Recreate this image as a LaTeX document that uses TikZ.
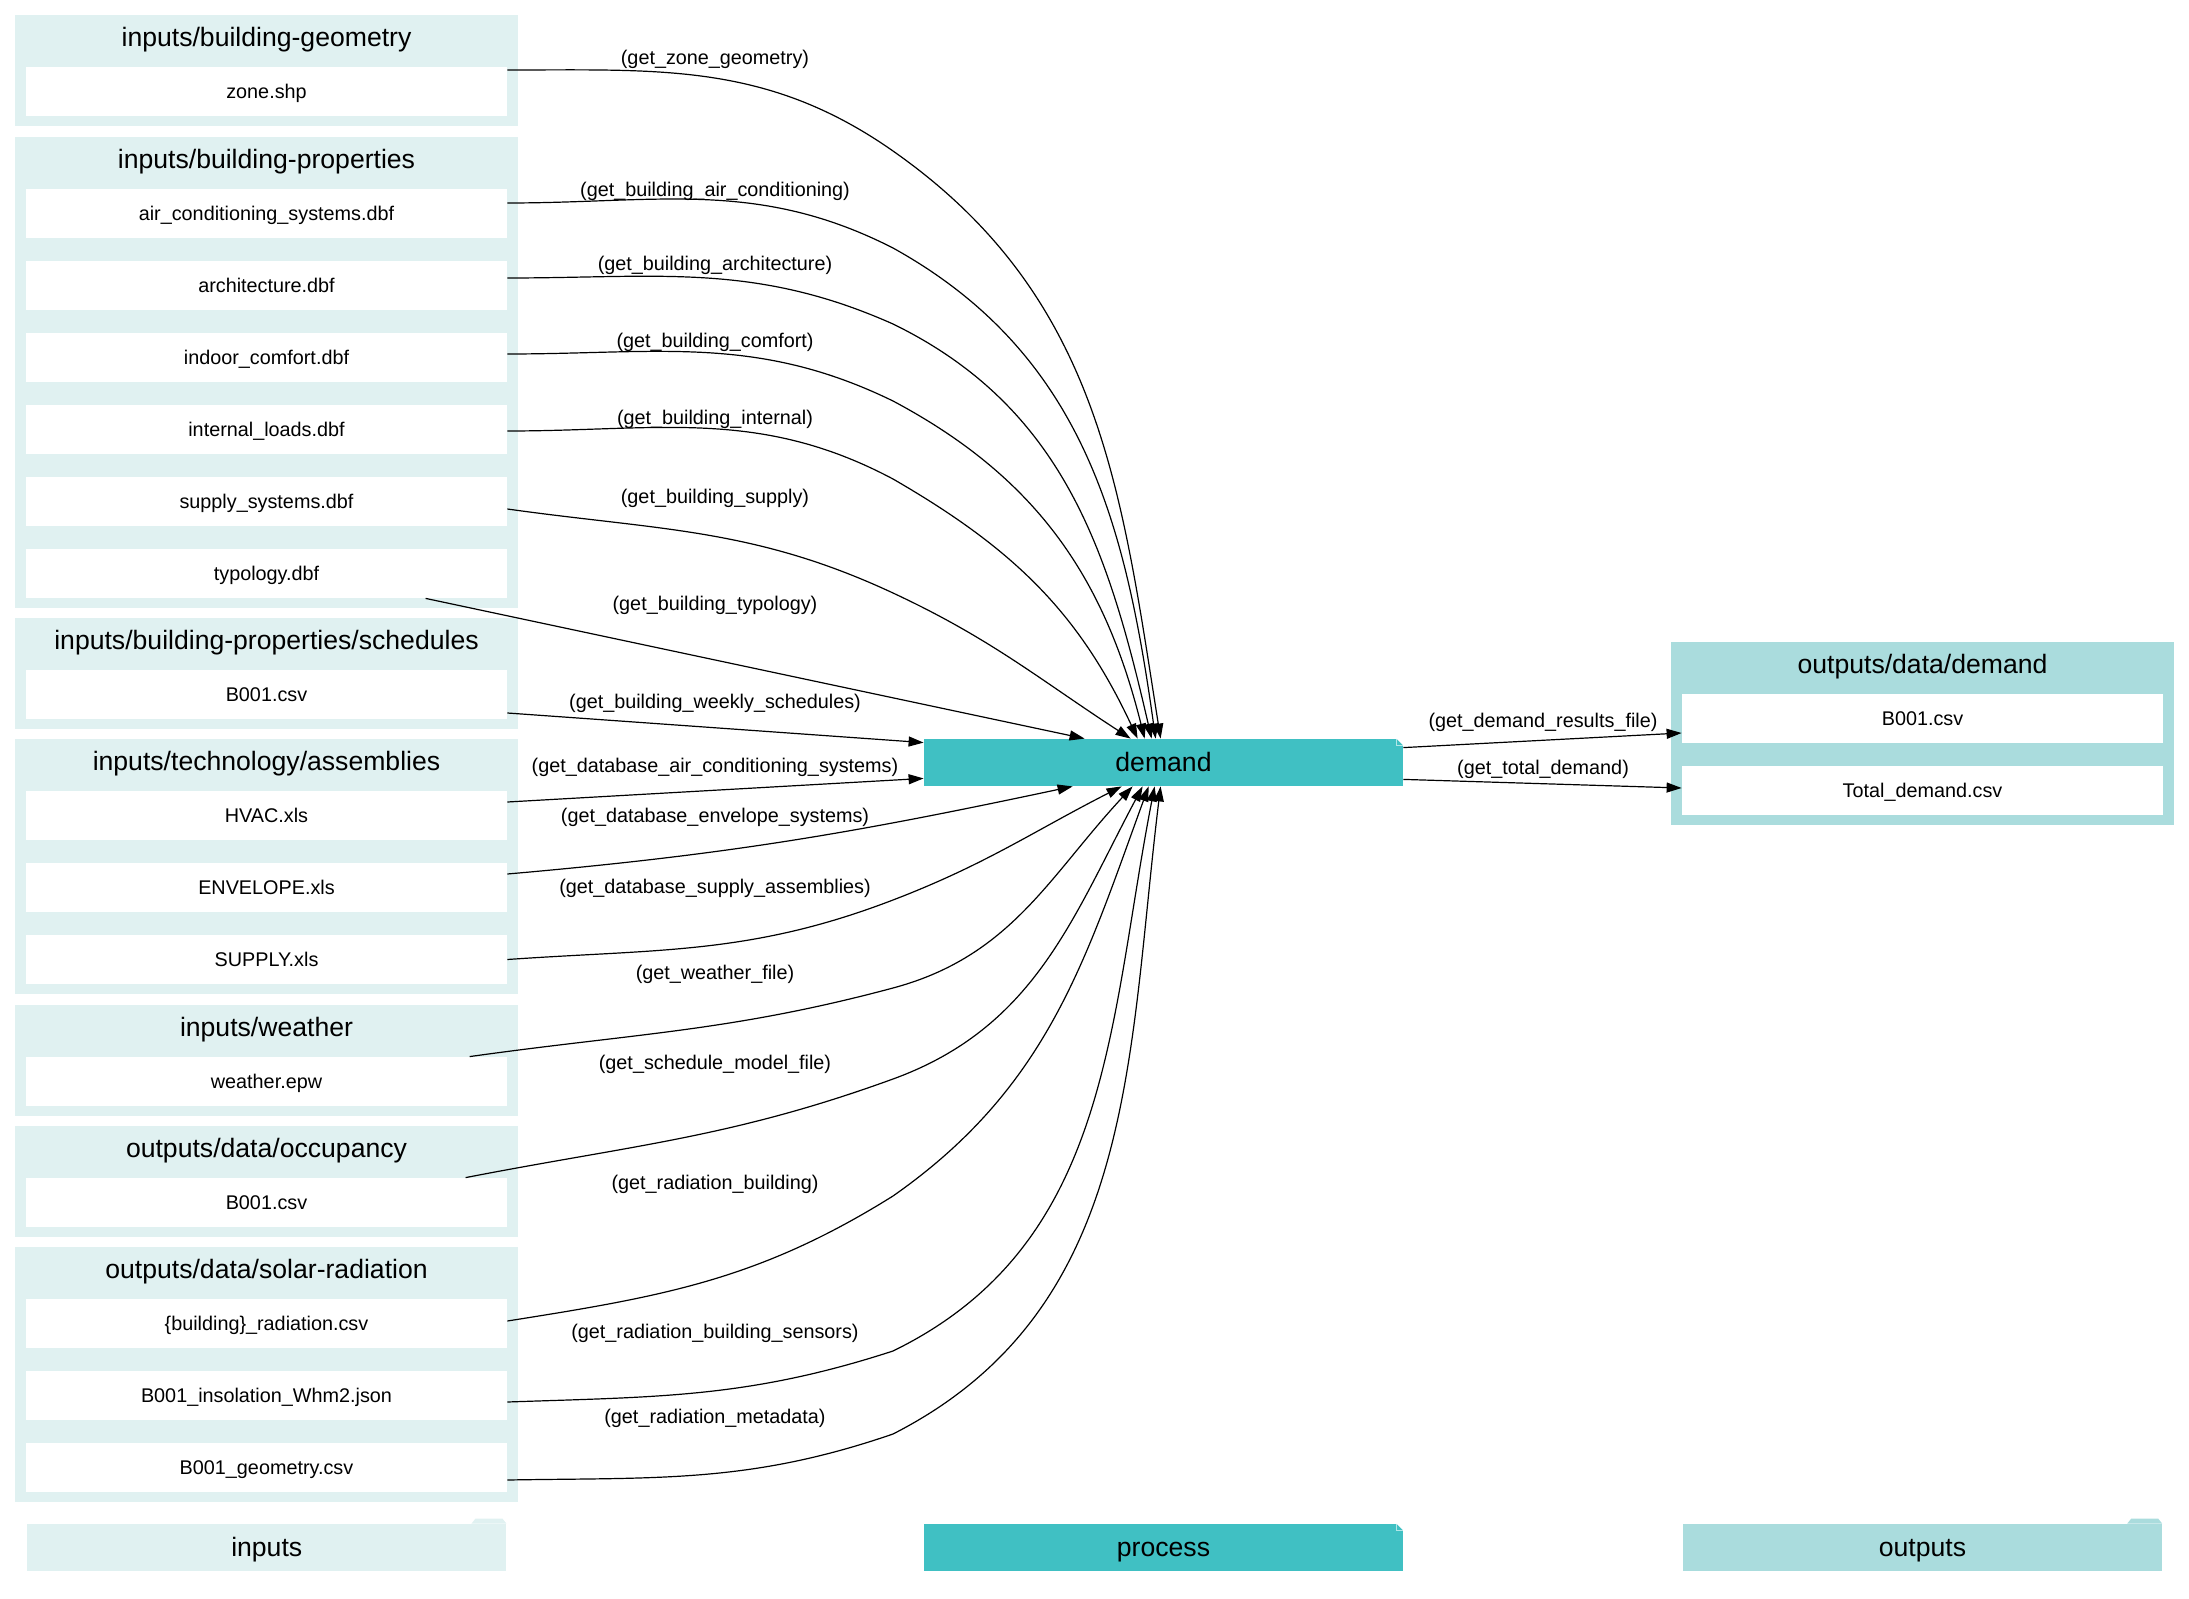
\documentclass[tikz,border=0pt]{standalone}
\usepackage{fontspec}
\setmainfont{Liberation Sans}
\usetikzlibrary{arrows.meta, positioning, calc}
\definecolor{inbg}{HTML}{E0F1F1}
\definecolor{outbg}{HTML}{AADCDD}
\definecolor{procbg}{HTML}{40C0C3}
\newcommand{\smallfnt}{\fontsize{9.9}{12}\selectfont}
\newcommand{\bigfnt}{\fontsize{13.3}{16}\selectfont}

\begin{document}
\begin{tikzpicture}[x=0.5pt, y=0.5pt,
    cluster/.style={fill=#1, inner sep=0pt, minimum width=251.3pt},
    ctitle/.style={font=\bigfnt, inner sep=0pt, text height=11pt, text depth=1.6pt},
    file/.style={fill=white, inner sep=0pt, minimum width=240.5pt, minimum height=24.5pt,
                 font=\smallfnt, text height=8.2pt, text depth=1.2pt},
    proc/.style={fill=procbg, inner sep=0pt, minimum width=239.5pt, minimum height=23.5pt,
                 font=\bigfnt, text height=11pt, text depth=1.6pt},
    legend/.style={fill=#1, inner sep=0pt, minimum width=239.3pt, minimum height=23.5pt,
                   font=\bigfnt, text height=11pt, text depth=1.6pt},
    arrow/.style={-{Stealth[length=7.5pt, width=5pt, inset=0pt]}, line width=0.6pt, black},
    elabel/.style={font=\smallfnt, inner sep=0pt}
]
\useasboundingbox (0,0) rectangle (2189,-1599);

% clusters
\node[cluster=inbg, minimum height=55.5pt]  (geomcl)  at (266.5,-70.5)   {};
\node[cluster=inbg, minimum height=235.5pt] (propcl)  at (266.5,-372.5)  {};
\node[cluster=inbg, minimum height=55.5pt]  (schedcl) at (266.5,-673.5)  {};
\node[cluster=inbg, minimum height=127.5pt] (asmcl)   at (266.5,-866.5)  {};
\node[cluster=inbg, minimum height=55.5pt]  (weathcl) at (266.5,-1060.5) {};
\node[cluster=inbg, minimum height=55.5pt]  (occcl)   at (266.5,-1181.5) {};
\node[cluster=inbg, minimum height=127.5pt] (solarcl) at (266.5,-1374.5) {};
\node[cluster=outbg, minimum height=91.5pt, minimum width=251.5pt] (outcl) at (1922.5,-733.5) {};

\node[ctitle] (geomt)  at (266.5,-37)   {inputs/building-geometry};
\node[ctitle] (propt)  at (266.5,-159)  {inputs/building-properties};
\node[ctitle] (schedt) at (266.5,-640)  {inputs/building-properties/schedules};
\node[ctitle] (asmt)   at (266.5,-761)  {inputs/technology/assemblies};
\node[ctitle] (weatht) at (266.5,-1027) {inputs/weather};
\node[ctitle] (occt)   at (266.5,-1148) {outputs/data/occupancy};
\node[ctitle] (solart) at (266.5,-1269) {outputs/data/solar-radiation};
\node[ctitle] (outt)   at (1922.5,-664) {outputs/data/demand};

% files
\node[file] (zone)  at (266.5,-91.5)   {zone.shp};
\node[file] (airc)  at (266.5,-213.5)  {air\_conditioning\_systems.dbf};
\node[file] (arch)  at (266.5,-285.5)  {architecture.dbf};
\node[file] (comf)  at (266.5,-357.5)  {indoor\_comfort.dbf};
\node[file] (intl)  at (266.5,-429.5)  {internal\_loads.dbf};
\node[file] (supp)  at (266.5,-501.5)  {supply\_systems.dbf};
\node[file] (typo)  at (266.5,-573.5)  {typology.dbf};
\node[file] (sched) at (266.5,-694.5)  {B001.csv};
\node[file] (hvac)  at (266.5,-815.5)  {HVAC.xls};
\node[file] (env)   at (266.5,-887.5)  {ENVELOPE.xls};
\node[file] (supa)  at (266.5,-959.5)  {SUPPLY.xls};
\node[file] (weath) at (266.5,-1081.5) {weather.epw};
\node[file] (occ)   at (266.5,-1202.5) {B001.csv};
\node[file] (rad)   at (266.5,-1323.5) {\{building\}\_radiation.csv};
\node[file] (ins)   at (266.5,-1395.5) {B001\_insolation\_Whm2.json};
\node[file] (geo)   at (266.5,-1467.5) {B001\_geometry.csv};
\node[file] (outb)  at (1922.5,-718.5) {B001.csv};
\node[file] (tot)   at (1922.5,-790.5) {Total\_demand.csv};

% process
\node[proc] (demand) at (1163.5,-762.5) {demand};
\fill[white] ($(demand.north east)+(-7,0)$) -- (demand.north east) -- ($(demand.north east)+(0,-7)$) -- cycle;
\draw[white!60!procbg, line width=0.4pt] ($(demand.north east)+(-7,0)$) -- ($(demand.north east)+(-7,-7)$) -- ($(demand.north east)+(0,-7)$);

% legend
\node[legend=inbg]  (leginputs)  at (266.75,-1547.5) {inputs};
\fill[inbg] ($(leginputs.north east)+(-35,0)$) -- ++(4,5) -- ++(27,0) -- ++(4,-5) -- cycle;
\node[proc] (legproc) at (1163.5,-1547.5) {process};
\fill[white] ($(legproc.north east)+(-7,0)$) -- (legproc.north east) -- ($(legproc.north east)+(0,-7)$) -- cycle;
\draw[white!60!procbg, line width=0.4pt] ($(legproc.north east)+(-7,0)$) -- ($(legproc.north east)+(-7,-7)$) -- ($(legproc.north east)+(0,-7)$);
\node[legend=outbg] (legoutputs) at (1922.5,-1547.5) {outputs};
\fill[outbg] ($(legoutputs.north east)+(-35,0)$) -- ++(4,5) -- ++(27,0) -- ++(4,-5) -- cycle;

% inputs -> demand
\draw[arrow] ($(zone.east)+(0,21.5)$) to[out=0,in=145] (893,-151) to[out=-35,in=99] ($(demand.north west)+(237,0)$);
\draw[arrow] ($(airc.east)+(0,10.5)$) to[out=0,in=153] (893,-248) to[out=-29,in=98] ($(demand.north west)+(232,0)$);
\draw[arrow] ($(arch.east)+(0,7.5)$) to[out=0,in=156] (893,-324) to[out=-26,in=103] ($(demand.north west)+(228,0)$);
\draw[arrow] ($(comf.east)+(0,3.5)$) to[out=0,in=154] (893,-401) to[out=-28,in=104] ($(demand.north west)+(221,0)$);
\draw[arrow] ($(intl.east)+(0,-1.5)$) to[out=0,in=152] (893,-479) to[out=-30,in=115] ($(demand.north west)+(214,0)$);
\draw[arrow] ($(supp.east)+(0,-7.5)$) to[out=-8,in=155] (893,-593) to[out=-25,in=147] ($(demand.north west)+(207,0)$);
\draw[arrow] ($(typo.south west)+(400,0)$) -- ($(demand.north west)+(161,0)$);
\draw[arrow] ($(sched.east)+(0,-18.5)$) -- ($(demand.north west)+(0,-4)$);
\draw[arrow] ($(hvac.east)+(0,13.5)$) -- ($(demand.south west)+(0,8)$);
\draw[arrow] ($(env.east)+(0,13.5)$) to[out=5,in=192] ($(demand.south west)+(149,0)$);
\draw[arrow] (supa.east) to[out=4,in=201] (893,-900) to[out=21,in=207] ($(demand.south west)+(198,0)$);
\draw[arrow] ($(weath.north west)+(444,0)$) to[out=8,in=195] (893,-988) to[out=15,in=227] ($(demand.south west)+(209,0)$);
\draw[arrow] ($(occ.north west)+(440,0)$) to[out=11,in=200] (893,-1079) to[out=20,in=242] ($(demand.south west)+(219,0)$);
\draw[arrow] ($(rad.east)+(0,2.5)$) to[out=9,in=212] (893,-1196) to[out=35,in=250] ($(demand.south west)+(225,0)$);
\draw[arrow] ($(ins.east)+(0,-6.5)$) to[out=2,in=198] (893,-1351) to[out=26,in=259] ($(demand.south west)+(231,0)$);
\draw[arrow] ($(geo.east)+(0,-12.5)$) to[out=1,in=199] (893,-1434) to[out=27,in=263] ($(demand.south west)+(237,0)$);

% demand -> outputs
\draw[arrow] ($(demand.north east)+(0,-9)$) -- ($(outb.west)+(0,-14.5)$);
\draw[arrow] ($(demand.south east)+(0,7)$) -- ($(tot.west)+(0,2.5)$);

% edge labels
\node[elabel] (lzone)  at (715,-59)   {(get\_zone\_geometry)};
\node[elabel] (lairc)  at (715,-191)  {(get\_building\_air\_conditioning)};
\node[elabel] (larch)  at (715,-265)  {(get\_building\_architecture)};
\node[elabel] (lcomf)  at (715,-342)  {(get\_building\_comfort)};
\node[elabel] (lintl)  at (715,-419)  {(get\_building\_internal)};
\node[elabel] (lsupp)  at (715,-498)  {(get\_building\_supply)};
\node[elabel] (ltypo)  at (715,-605)  {(get\_building\_typology)};
\node[elabel] (lsched) at (715,-703)  {(get\_building\_weekly\_schedules)};
\node[elabel] (lhvac)  at (715,-767)  {(get\_database\_air\_conditioning\_systems)};
\node[elabel] (lenv)   at (715,-817)  {(get\_database\_envelope\_systems)};
\node[elabel] (lsupa)  at (715,-888)  {(get\_database\_supply\_assemblies)};
\node[elabel] (lweath) at (715,-974)  {(get\_weather\_file)};
\node[elabel] (locc)   at (715,-1064) {(get\_schedule\_model\_file)};
\node[elabel] (lrad)   at (715,-1184) {(get\_radiation\_building)};
\node[elabel] (lins)   at (715,-1333) {(get\_radiation\_building\_sensors)};
\node[elabel] (lgeo)   at (715,-1418) {(get\_radiation\_metadata)};
\node[elabel] (lres)   at (1543,-722) {(get\_demand\_results\_file)};
\node[elabel] (ltot)   at (1543,-769) {(get\_total\_demand)};
\end{tikzpicture}
\end{document}
